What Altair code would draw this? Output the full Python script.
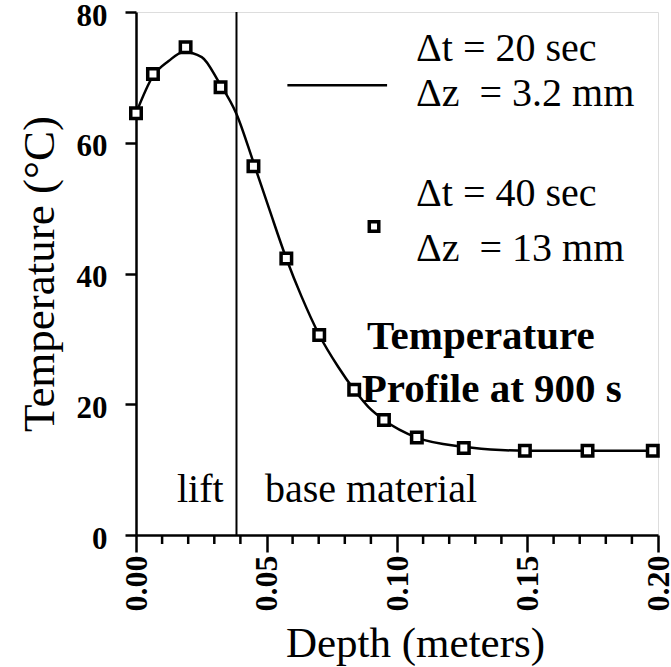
import altair as alt
import pandas as pd

# Measured squares (Δt = 40 s, Δz = 13 mm)
depth_pts = [0.0, 0.0065, 0.019, 0.0324, 0.045, 0.0576, 0.0702, 0.0836, 0.095, 0.1076, 0.1256, 0.149, 0.173, 0.198]
temp_pts = [64.5, 70.5, 74.6, 68.5, 56.4, 42.3, 30.6, 22.2, 17.6, 14.9, 13.3, 12.9, 12.9, 12.9]

# Solid curve (Δt = 20 s, Δz = 3.2 mm)
line_depth = [0.0, 0.0065, 0.0125, 0.0183, 0.0252, 0.0317, 0.0385, 0.045, 0.0511, 0.0576, 0.0634,
              0.0702, 0.0775, 0.0836, 0.089, 0.095, 0.1076, 0.1256, 0.1397, 0.149, 0.175, 0.2]
line_temp = [64.5, 70.2, 72.5, 73.9, 73.1, 69.3, 64.4, 57.0, 49.8, 42.3, 36.5,
             30.6, 25.7, 22.2, 19.6, 17.6, 14.9, 13.5, 13.0, 12.9, 12.9, 12.9]

lift_boundary = [0.0385]
minor_ticks = [0.01, 0.02, 0.03, 0.04, 0.06, 0.07, 0.08, 0.09,
               0.11, 0.12, 0.13, 0.14, 0.16, 0.17, 0.18, 0.19]
major_ticks = [0.0, 0.05, 0.10, 0.15, 0.20]
y_ticks = [0, 20, 40, 60, 80]

FONT = "Liberation Serif"
W, H = 522, 523

pts = pd.DataFrame({"depth": depth_pts, "temp": temp_pts})
line = pd.DataFrame({"depth": line_depth, "temp": line_temp})
bnd = pd.DataFrame({"depth": lift_boundary})
mnr = pd.DataFrame({"depth": minor_ticks})
one = pd.DataFrame({"k": [0]})

xscale = alt.Scale(domain=[0, 0.2], nice=False)
yscale = alt.Scale(domain=[0, 80], nice=False)

xaxis = alt.Axis(values=major_ticks, format=".2f",
                 labelAngle=-90, labelFont=FONT, labelFontSize=32, labelFontWeight="bold", labelColor="black",
                 labelPadding=3, tickSize=17, tickWidth=2.5, tickColor="black", domainColor="black", domainWidth=2.5,
                 title="Depth (meters)", titleFont=FONT, titleFontSize=43, titleFontWeight="normal",
                 titleColor="black", titlePadding=11, titleX=279, titleAlign="center",
                 grid=False, labelOverlap=False, labelFlush=False)
yaxis = alt.Axis(values=y_ticks, labelFont=FONT, labelFontSize=31, labelFontWeight="bold", labelColor="black",
                 labelPadding=18, labelOffset=4, tickSize=11, tickWidth=2.5, tickColor="black",
                 domainColor="black", domainWidth=2.5,
                 title="Temperature (°C)", titleFont=FONT, titleFontSize=45, titleFontWeight="normal",
                 titleColor="black", titlePadding=14, grid=False, labelFlush=False, labelOverlap=False)

X = alt.X("depth:Q", scale=xscale, axis=xaxis)
Y = alt.Y("temp:Q", scale=yscale, axis=yaxis)

vline = alt.Chart(bnd).mark_rule(color="black", strokeWidth=2).encode(
    x=X, y=alt.value(0), y2=alt.value(H))

minor = alt.Chart(mnr).mark_rule(color="black", strokeWidth=2.5).encode(
    x=X, y=alt.value(H), y2=alt.value(H + 9))

curve = alt.Chart(line).mark_line(color="black", strokeWidth=2.5, interpolate="monotone").encode(
    x=X, y=Y)

squares = alt.Chart(pts).mark_point(shape="square", size=110, filled=True, fill="white",
                                    stroke="black", strokeWidth=3.5, opacity=1).encode(
    x=X, y=Y)

legend_line = alt.Chart(one).mark_rule(color="black", strokeWidth=2.5).encode(
    x=alt.datum(0.058), x2=alt.datum(0.0962), y=alt.datum(68.8))

legend_sq = alt.Chart(one).mark_point(shape="square", size=90, filled=True, fill="white",
                                      stroke="black", strokeWidth=3.5, opacity=1).encode(
    x=alt.datum(0.0912), y=alt.datum(47.2))


def txt(s, x, y, bold=False, size=40):
    return alt.Chart(one).mark_text(text=s, font=FONT, fontSize=size, align="left", baseline="middle",
                                    fontWeight="bold" if bold else "normal", color="black").encode(
        x=alt.datum(x), y=alt.datum(y))


texts = [
    txt("Δt = 20 sec", 0.1073, 74.3),
    txt("Δz \u00a0= 3.2 mm", 0.1073, 67.4),
    txt("Δt = 40 sec", 0.1073, 52.1),
    txt("Δz \u00a0= 13 mm", 0.1073, 43.7),
    txt("Temperature", 0.0885, 30.3, bold=True, size=41),
    txt("Profile at 900 s", 0.0865, 22.2, bold=True, size=41),
    txt("lift", 0.0157, 6.9),
    txt("base material", 0.0494, 6.9),
]

chart = alt.layer(vline, minor, curve, squares, legend_line, legend_sq, *texts).properties(
    width=W, height=H,
    autosize=alt.AutoSizeParams(type="none"),
    padding={"left": 136, "top": 12, "right": 13, "bottom": 132},
).configure_view(stroke="black", strokeWidth=2.5).configure(background="white")

chart.save("out.html", embed_options={"renderer": "svg", "actions": False})
